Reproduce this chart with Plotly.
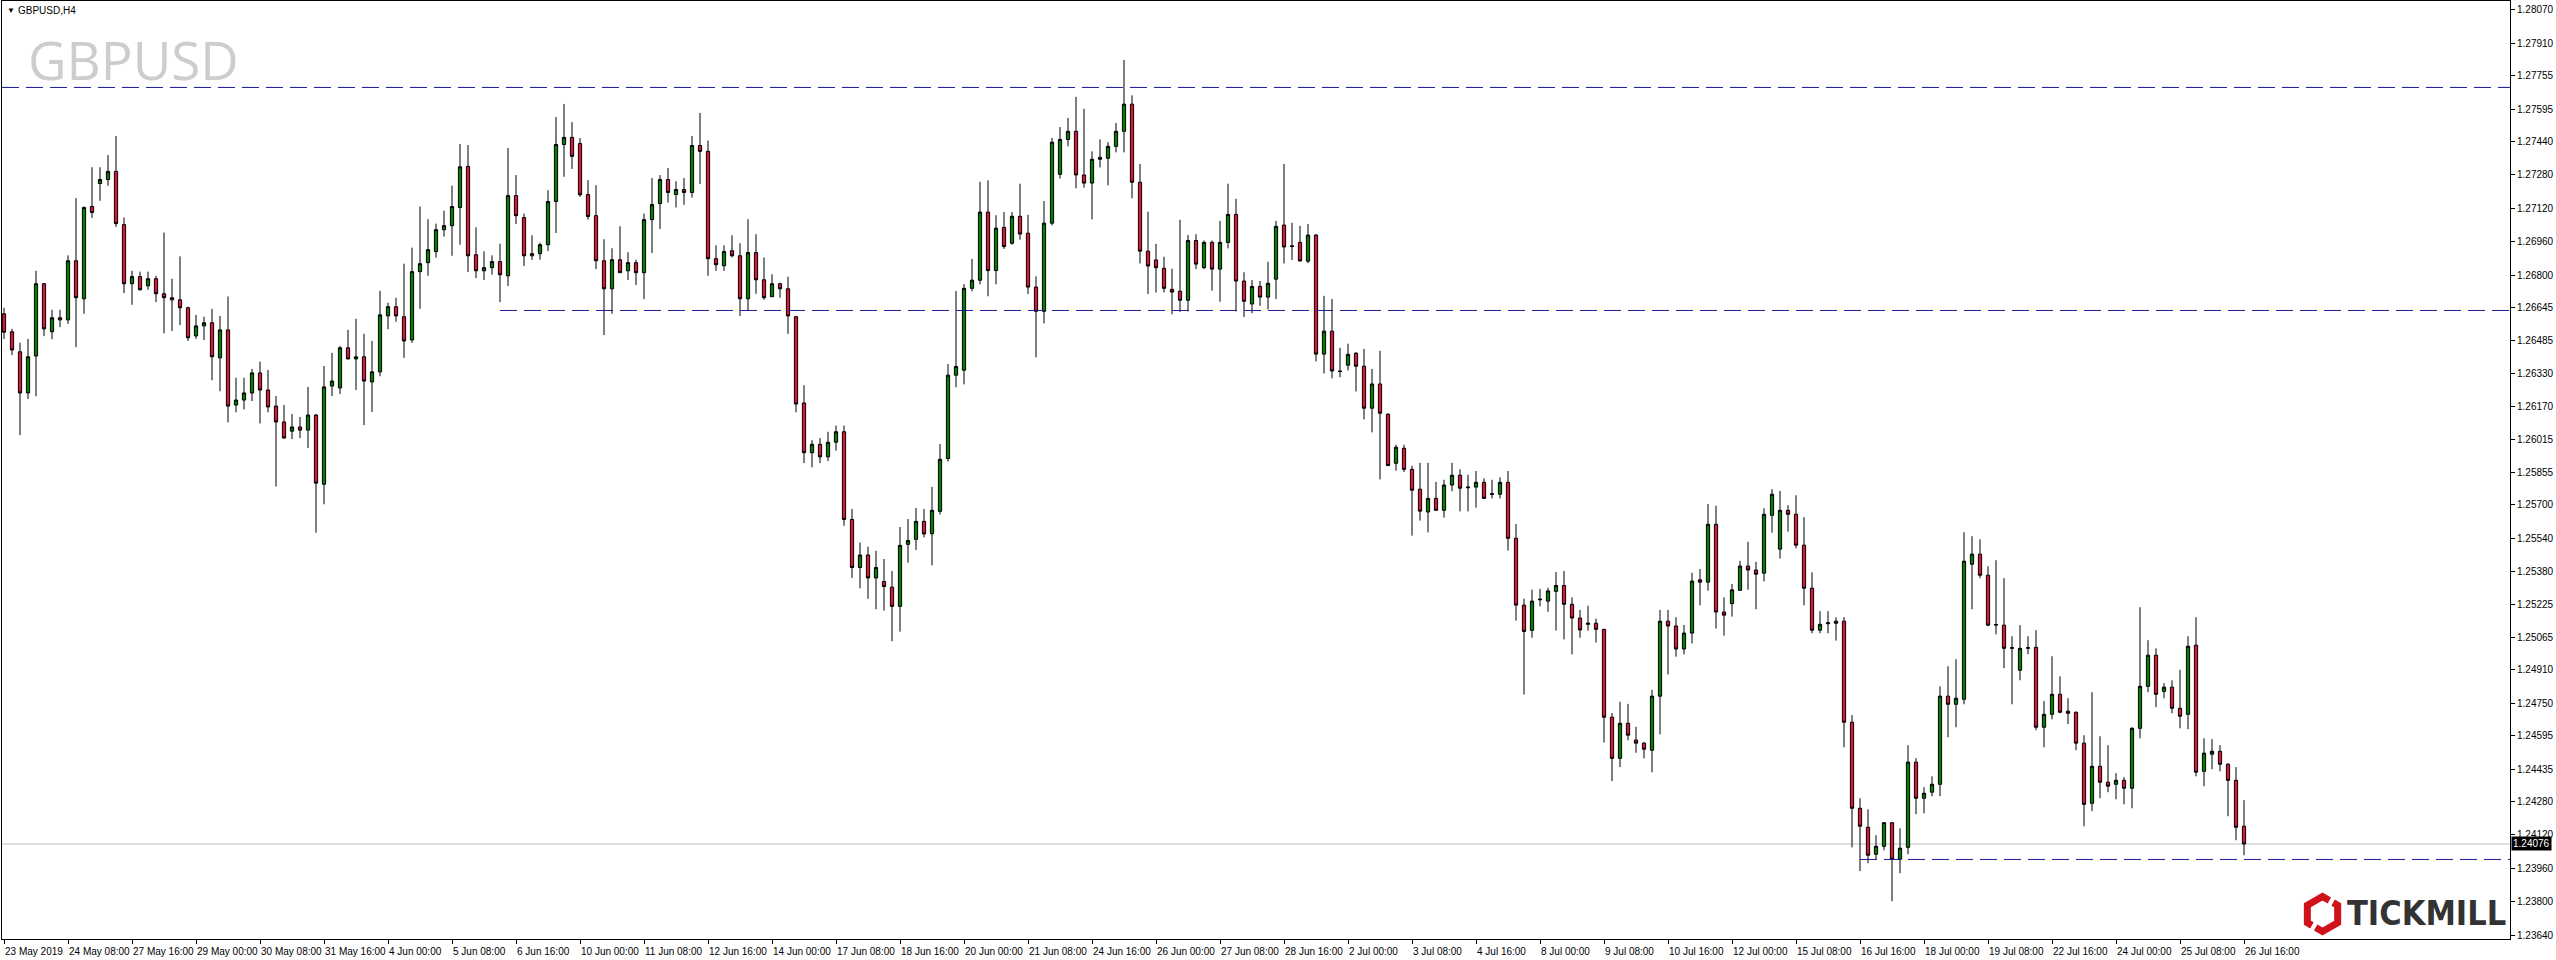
import plotly.graph_objects as go

# ---------------- data (H4 bars, GBPUSD) ----------------
opens = [
1.26615,1.26529,1.26433,1.26236,1.26413,1.26759,1.26529,1.26596,1.26586,1.26869,
1.26687,1.27129,1.27239,1.27258,1.27297,1.27042,1.26759,1.26793,1.26749,1.26783,
1.26711,1.26692,1.26682,1.26644,1.26509,1.26557,1.26572,1.26404,1.26538,1.26178,
1.26202,1.26236,1.26332,1.26250,1.26173,1.26097,1.26053,1.26073,1.26058,1.26130,
1.25799,1.26269,1.26260,1.26452,1.26399,1.26409,1.26289,1.26337,1.26605,1.26649,
1.26601,1.26490,1.26817,1.26860,1.26913,1.27018,1.27037,1.27124,1.27321,1.26898,
1.26821,1.26836,1.26865,1.26797,1.27181,1.27076,1.26893,1.26903,1.26946,1.27153,
1.27426,1.27460,1.27431,1.27186,1.27085,1.26869,1.26735,1.26874,1.26821,1.26860,
1.26812,1.27066,1.27143,1.27258,1.27186,1.27210,1.27196,1.27421,1.27393,1.26879,
1.26845,1.26917,1.26893,1.26687,1.26908,1.26778,1.26697,1.26759,1.26735,1.26601,
1.26188,1.25950,1.25990,1.25930,1.26000,1.26050,1.25630,1.25400,1.25460,1.25350,
1.25333,1.25306,1.25214,1.25511,1.25535,1.25621,1.25562,1.25669,1.25922,1.26321,
1.26345,1.26737,1.26776,1.27102,1.26822,1.27029,1.26953,1.27082,1.27001,1.26743,
1.26627,1.27049,1.27283,1.27450,1.27489,1.27280,1.27241,1.27355,1.27360,1.27417,
1.27489,1.27619,1.27245,1.26915,1.26873,1.26833,1.26732,1.26723,1.26680,1.26966,
1.26836,1.26957,1.26829,1.26957,1.27091,1.26772,1.26662,1.26746,1.26695,1.26781,
1.27040,1.26937,1.26957,1.26867,1.26992,1.26422,1.26532,1.26341,1.26369,1.26426,
1.26364,1.26163,1.26279,1.26134,1.25899,1.25971,1.25870,1.25775,1.25666,1.25731,
1.25674,1.25795,1.25842,1.25782,1.25785,1.25808,1.25750,1.25751,1.25808,1.25540,
1.25220,1.25099,1.25249,1.25239,1.25286,1.25314,1.25224,1.25158,1.25128,1.25133,
1.25104,1.24683,1.24486,1.24654,1.24574,1.24559,1.24525,1.24784,1.25143,1.25120,
1.25010,1.25086,1.25341,1.25330,1.25607,1.25187,1.25227,1.25291,1.25407,1.25388,
1.25373,1.25650,1.25488,1.25674,1.25655,1.25507,1.25301,1.25100,1.25131,1.25133,
1.25143,1.24659,1.24247,1.24156,1.24027,1.24065,1.24178,1.24003,1.24060,1.24468,
1.24295,1.24324,1.24362,1.24784,1.24745,1.24769,1.25416,1.25464,1.25363,1.25124,
1.25124,1.25013,1.24908,1.25013,1.25018,1.24635,1.24697,1.24793,1.24712,1.24707,
1.24559,1.24271,1.24448,1.24372,1.24362,1.24381,1.24343,1.24630,1.24831,1.24980,
1.24807,1.24827,1.24726,1.24697,1.25028,1.24424,1.24506,1.24520,1.24458,1.24381,1.24161]

highs = [
1.26644,1.26543,1.26477,1.26495,1.26821,1.26762,1.26634,1.26634,1.26895,1.27169,
1.27130,1.27317,1.27317,1.27375,1.27466,1.27076,1.26821,1.26817,1.26817,1.26797,
1.27004,1.26783,1.26890,1.26649,1.26610,1.26601,1.26639,1.26605,1.26698,1.26309,
1.26309,1.26351,1.26386,1.26346,1.26221,1.26178,1.26135,1.26121,1.26265,1.26135,
1.26365,1.26428,1.26461,1.26538,1.26591,1.26519,1.26485,1.26725,1.26668,1.26692,
1.26855,1.26932,1.27129,1.27068,1.27047,1.27109,1.27229,1.27428,1.27423,1.27029,
1.26914,1.26895,1.26951,1.27409,1.27279,1.27095,1.26991,1.26956,1.27207,1.27557,
1.27620,1.27533,1.27457,1.27255,1.27231,1.26972,1.26929,1.27034,1.26910,1.26874,
1.27095,1.27265,1.27279,1.27313,1.27250,1.27265,1.27466,1.27577,1.27445,1.26943,
1.26943,1.26991,1.26953,1.27068,1.26996,1.26885,1.26804,1.26764,1.26793,1.26605,
1.26273,1.26010,1.26020,1.26050,1.26080,1.26080,1.25680,1.25520,1.25500,1.25480,
1.25441,1.25383,1.25594,1.25632,1.25685,1.25680,1.25786,1.25991,1.26374,1.26724,
1.26757,1.26878,1.27247,1.27254,1.27087,1.27102,1.27102,1.27238,1.27089,1.26794,
1.27155,1.27457,1.27509,1.27553,1.27654,1.27597,1.27393,1.27450,1.27437,1.27529,
1.27831,1.27661,1.27333,1.27104,1.26950,1.26888,1.26831,1.27065,1.26992,1.26996,
1.26966,1.26966,1.27060,1.27238,1.27166,1.26814,1.26776,1.26772,1.26864,1.27060,
1.27333,1.27051,1.27036,1.27045,1.26997,1.26701,1.26686,1.26452,1.26472,1.26432,
1.26447,1.26351,1.26438,1.26139,1.25988,1.25988,1.25887,1.25901,1.25901,1.25810,
1.25820,1.25901,1.25870,1.25844,1.25862,1.25827,1.25820,1.25832,1.25862,1.25608,
1.25251,1.25294,1.25298,1.25303,1.25378,1.25383,1.25257,1.25197,1.25217,1.25155,
1.25106,1.24703,1.24757,1.24747,1.24637,1.24564,1.24814,1.25197,1.25197,1.25162,
1.25125,1.25375,1.25393,1.25704,1.25696,1.25257,1.25321,1.25432,1.25523,1.25427,
1.25684,1.25775,1.25767,1.25698,1.25746,1.25641,1.25377,1.25191,1.25191,1.25162,
1.25162,1.24693,1.24295,1.24242,1.24118,1.24180,1.24180,1.24151,1.24549,1.24487,
1.24348,1.24400,1.24831,1.24927,1.24961,1.25569,1.25550,1.25535,1.25406,1.25435,
1.25349,1.25071,1.25124,1.25071,1.25100,1.24760,1.24975,1.24879,1.24774,1.24710,
1.24597,1.24803,1.24592,1.24549,1.24415,1.24396,1.24635,1.25210,1.25052,1.25013,
1.24846,1.24860,1.24910,1.25071,1.25162,1.24582,1.24578,1.24549,1.24463,1.24444,1.24286]

lows = [
1.26495,1.26418,1.26034,1.26207,1.26220,1.26508,1.26493,1.26551,1.26567,1.26455,
1.26615,1.27074,1.27156,1.27228,1.27031,1.26714,1.26658,1.26727,1.26730,1.26671,
1.26522,1.26533,1.26561,1.26485,1.26495,1.26489,1.26297,1.26244,1.26095,1.26143,
1.26157,1.26197,1.26090,1.26143,1.25788,1.26018,1.26015,1.26020,1.25972,1.25567,
1.25703,1.26221,1.26231,1.26397,1.26250,1.26082,1.26145,1.26316,1.26541,1.26577,
1.26404,1.26476,1.26639,1.26797,1.26884,1.26985,1.26893,1.26946,1.26815,1.26786,
1.26777,1.26802,1.26671,1.26748,1.27045,1.26844,1.26873,1.26874,1.26916,1.27002,
1.27271,1.27309,1.27175,1.27066,1.26829,1.26513,1.26615,1.26812,1.26777,1.26753,
1.26685,1.26906,1.27021,1.27148,1.27124,1.27137,1.27172,1.27237,1.26797,1.26821,
1.26821,1.26885,1.26605,1.26633,1.26711,1.26682,1.26695,1.26692,1.26519,1.26143,
1.25900,1.25880,1.25900,1.25910,1.25960,1.25600,1.25350,1.25300,1.25250,1.25200,
1.25194,1.25047,1.25093,1.25423,1.25484,1.25544,1.25410,1.25654,1.25907,1.26263,
1.26277,1.26723,1.26756,1.26699,1.26756,1.26926,1.26946,1.26970,1.26710,1.26407,
1.26569,1.27038,1.27263,1.27417,1.27216,1.27219,1.27067,1.27316,1.27230,1.27388,
1.27388,1.27168,1.26856,1.26710,1.26717,1.26717,1.26613,1.26624,1.26627,1.26829,
1.26829,1.26726,1.26673,1.26928,1.26627,1.26600,1.26618,1.26653,1.26636,1.26686,
1.26856,1.26873,1.26867,1.26858,1.26387,1.26329,1.26306,1.26311,1.26344,1.26243,
1.26109,1.26047,1.25822,1.25886,1.25864,1.25857,1.25553,1.25625,1.25568,1.25672,
1.25639,1.25765,1.25669,1.25669,1.25687,1.25729,1.25731,1.25731,1.25481,1.25146,
1.24792,1.25064,1.25214,1.25188,1.25098,1.25056,1.24984,1.25064,1.25098,1.25041,
1.24562,1.24377,1.24444,1.24572,1.24513,1.24486,1.24419,1.24601,1.24888,1.24973,
1.24984,1.25036,1.25219,1.25289,1.25108,1.25074,1.25165,1.25289,1.25294,1.25200,
1.25333,1.25567,1.25443,1.25572,1.25492,1.25219,1.25085,1.25085,1.25085,1.25050,
1.24539,1.24060,1.23946,1.23984,1.24003,1.24046,1.23802,1.23936,1.24027,1.24219,
1.24223,1.24305,1.24305,1.24587,1.24635,1.24745,1.25200,1.25349,1.25119,1.25080,
1.24918,1.24745,1.24860,1.24985,1.24621,1.24539,1.24673,1.24702,1.24650,1.24525,
1.24161,1.24233,1.24295,1.24324,1.24290,1.24266,1.24247,1.24582,1.24803,1.24731,
1.24774,1.24702,1.24630,1.24626,1.24400,1.24353,1.24434,1.24424,1.24209,1.24094,1.24022]

closes = [
1.26527,1.26442,1.26236,1.26409,1.26759,1.26543,1.26596,1.26586,1.26869,1.26692,
1.27124,1.27100,1.27258,1.27297,1.27047,1.26759,1.26793,1.26730,1.26783,1.26711,
1.26692,1.26682,1.26644,1.26500,1.26557,1.26572,1.26409,1.26538,1.26173,1.26202,
1.26236,1.26332,1.26250,1.26169,1.26097,1.26020,1.26073,1.26058,1.26130,1.25804,
1.26265,1.26293,1.26452,1.26399,1.26409,1.26293,1.26337,1.26610,1.26649,1.26605,
1.26485,1.26817,1.26855,1.26922,1.27018,1.27037,1.27129,1.27319,1.26893,1.26821,
1.26836,1.26865,1.26802,1.27181,1.27085,1.26893,1.26903,1.26946,1.27153,1.27426,
1.27460,1.27369,1.27185,1.27081,1.26869,1.26735,1.26874,1.26812,1.26860,1.26812,
1.27066,1.27138,1.27258,1.27196,1.27210,1.27196,1.27421,1.27393,1.26879,1.26850,
1.26913,1.26893,1.26687,1.26908,1.26778,1.26692,1.26759,1.26735,1.26605,1.26183,
1.25950,1.25990,1.25930,1.26000,1.26050,1.25630,1.25400,1.25460,1.25350,1.25400,
1.25309,1.25214,1.25506,1.25529,1.25621,1.25561,1.25674,1.25918,1.26321,1.26363,
1.26737,1.26776,1.27102,1.26822,1.27025,1.26937,1.27082,1.26997,1.26743,1.26627,
1.27049,1.27437,1.27450,1.27489,1.27280,1.27241,1.27355,1.27364,1.27417,1.27489,
1.27619,1.27245,1.26915,1.26844,1.26836,1.26737,1.26719,1.26680,1.26966,1.26853,
1.26957,1.26829,1.26957,1.27091,1.26772,1.26675,1.26746,1.26695,1.26761,1.27034,
1.26935,1.26940,1.26868,1.26992,1.26422,1.26532,1.26341,1.26339,1.26421,1.26364,
1.26163,1.26279,1.26139,1.25888,1.25976,1.25870,1.25770,1.25670,1.25731,1.25674,
1.25795,1.25842,1.25780,1.25785,1.25808,1.25731,1.25753,1.25808,1.25540,1.25220,
1.25094,1.25239,1.25246,1.25288,1.25314,1.25224,1.25158,1.25101,1.25133,1.25104,
1.24683,1.24486,1.24654,1.24597,1.24559,1.24530,1.24784,1.25143,1.25120,1.25010,
1.25086,1.25335,1.25330,1.25607,1.25187,1.25172,1.25293,1.25407,1.25388,1.25368,
1.25655,1.25751,1.25674,1.25655,1.25507,1.25301,1.25100,1.25128,1.25135,1.25143,
1.24659,1.24247,1.24161,1.24022,1.24065,1.24178,1.24003,1.24056,1.24468,1.24295,
1.24319,1.24362,1.24784,1.24745,1.24774,1.25430,1.25464,1.25363,1.25124,1.25127,
1.25013,1.25016,1.25013,1.25016,1.24635,1.24697,1.24793,1.24707,1.24702,1.24559,
1.24266,1.24448,1.24372,1.24353,1.24381,1.24343,1.24630,1.24831,1.24980,1.24793,
1.24827,1.24726,1.24688,1.25023,1.24420,1.24511,1.24520,1.24458,1.24381,1.24156,1.24076]

time_labels = ["23 May 2019","24 May 08:00","27 May 16:00","29 May 00:00","30 May 08:00",
"31 May 16:00","4 Jun 00:00","5 Jun 08:00","6 Jun 16:00","10 Jun 00:00","11 Jun 08:00",
"12 Jun 16:00","14 Jun 00:00","17 Jun 08:00","18 Jun 16:00","20 Jun 00:00","21 Jun 08:00",
"24 Jun 16:00","26 Jun 00:00","27 Jun 08:00","28 Jun 16:00","2 Jul 00:00","3 Jul 08:00",
"4 Jul 16:00","8 Jul 00:00","9 Jul 08:00","10 Jul 16:00","12 Jul 00:00","15 Jul 08:00",
"16 Jul 16:00","18 Jul 00:00","19 Jul 08:00","22 Jul 16:00","24 Jul 00:00","25 Jul 08:00",
"26 Jul 16:00"]
label_step = 8  # one time label every 8 bars

price_ticks = [1.28070,1.27910,1.27755,1.27595,1.27440,1.27280,1.27120,1.26960,1.26800,
1.26645,1.26485,1.26330,1.26170,1.26015,1.25855,1.25700,1.25540,1.25380,1.25225,1.25065,
1.24910,1.24750,1.24595,1.24435,1.24280,1.24120,1.23960,1.23800,1.23640]

resistance_top = 1.27699
support_mid = 1.26631
support_mid_start = 62
support_low = 1.24002
support_low_start = 232
last_price = 1.24076

# ---------------- layout geometry ----------------
W, H = 2556, 960
ML, MR, MT, MB = 2, 46, 1, 21
PW, PH = W - ML - MR, H - MT - MB
X_RANGE = [-0.25, 313.25]
Y_RANGE = [1.23621, 1.28113]

def px(X):
    return (X - ML) / PW

def py(Y):
    return (H - MB - Y) / PH

FONT = "Liberation Sans, Arial, sans-serif"
DASH = "17px,7px"
LEVEL_COLOR = "#1a1a96"

x = list(range(len(opens)))

fig = go.Figure()
fig.add_trace(go.Candlestick(
    x=x, open=opens, high=highs, low=lows, close=closes,
    increasing=dict(fillcolor="#008000", line=dict(color="black", width=1)),
    decreasing=dict(fillcolor="#DC143C", line=dict(color="black", width=1)),
    whiskerwidth=0, showlegend=False, hoverinfo="skip"))

shapes = [
    dict(type="line", xref="paper", yref="y", x0=0, x1=1, y0=last_price, y1=last_price,
         line=dict(color="#c0c0c0", width=1), layer="below"),
    dict(type="line", xref="paper", yref="y", x0=0, x1=1, y0=resistance_top, y1=resistance_top,
         line=dict(color=LEVEL_COLOR, width=1, dash=DASH), layer="above"),
    dict(type="line", xref="x", yref="y", x0=support_mid_start, x1=X_RANGE[1],
         y0=support_mid, y1=support_mid,
         line=dict(color=LEVEL_COLOR, width=1, dash=DASH), layer="above"),
    dict(type="line", xref="x", yref="y", x0=support_low_start, x1=X_RANGE[1],
         y0=support_low, y1=support_low,
         line=dict(color=LEVEL_COLOR, width=1, dash=DASH), layer="above"),
]

# Tickmill hexagon logo (two open halves)
cx, cy, r = 2322.5, 914.0, 17.5
s3 = 0.8660254
V = {
    "T": (cx, cy - r), "UR": (cx + r * s3, cy - r / 2), "LR": (cx + r * s3, cy + r / 2),
    "B": (cx, cy + r), "LL": (cx - r * s3, cy + r / 2), "UL": (cx - r * s3, cy - r / 2),
}
def lerp(p, q, t):
    return (p[0] + (q[0] - p[0]) * t, p[1] + (q[1] - p[1]) * t)
a, b = 0.45, 0.30
half_a = [lerp(V["T"], V["UR"], a), V["T"], V["UL"], V["LL"], lerp(V["LL"], V["B"], b)]
half_b = [lerp(V["B"], V["LL"], a), V["B"], V["LR"], V["UR"], lerp(V["UR"], V["T"], b)]
for pts in (half_a, half_b):
    path = "M " + " L ".join(f"{px(p[0]):.5f},{py(p[1]):.5f}" for p in pts)
    shapes.append(dict(type="path", xref="paper", yref="paper", path=path,
                       line=dict(color="#d0121b", width=7), layer="above"))

annotations = [
    dict(xref="paper", yref="paper", x=px(5), y=py(10.5), text="▼", showarrow=False,
         xanchor="left", yanchor="middle", font=dict(family=FONT, size=8, color="black")),
    dict(xref="paper", yref="paper", x=px(16), y=py(10.5), text="GBPUSD,H4", showarrow=False,
         xanchor="left", yanchor="middle", font=dict(family=FONT, size=10, color="black")),
    dict(xref="paper", yref="paper", x=px(26), y=py(60), text="GBPUSD", showarrow=False,
         xanchor="left", yanchor="middle",
         font=dict(family="Open Sans, Liberation Sans", size=53, color="#cdcdcd")),
    dict(xref="paper", yref="paper", x=px(2345), y=py(913), text="<b>TICKMILL</b>", showarrow=False,
         xanchor="left", yanchor="middle",
         font=dict(family="Liberation Sans Narrow, DejaVu Sans Condensed, Arial Narrow, sans-serif",
                   size=34, color="#333333")),
    dict(xref="paper", yref="y", x=1, y=last_price, text=f"{last_price:.5f}", showarrow=False,
         xanchor="left", yanchor="middle", xshift=1, bgcolor="black", borderpad=1,
         font=dict(family=FONT, size=10, color="white")),
]

fig.update_layout(
    width=W, height=H, margin=dict(l=ML, r=MR, t=MT, b=MB, pad=0),
    paper_bgcolor="white", plot_bgcolor="white", showlegend=False,
    shapes=shapes, annotations=annotations,
    xaxis=dict(range=X_RANGE, tickmode="array",
               tickvals=[i * label_step for i in range(len(time_labels))],
               ticktext=time_labels, ticks="outside", ticklen=4, tickcolor="black",
               tickangle=0, ticklabelposition="outside right", ticklabelstandoff=3,
               showgrid=False, zeroline=False, showline=True, linecolor="black",
               linewidth=1, mirror=True, rangeslider=dict(visible=False),
               tickfont=dict(family=FONT, size=10, color="black")),
    yaxis=dict(side="right", range=Y_RANGE, tickmode="array", tickvals=price_ticks,
               ticktext=[f"{v:.5f}" for v in price_ticks], ticks="outside", ticklen=4,
               tickcolor="black", showgrid=False, zeroline=False, showline=True,
               linecolor="black", linewidth=1, mirror=True,
               tickfont=dict(family=FONT, size=10, color="black")),
    boxgap=0.42,
)

fig.write_html(
    "out.html",
    config={"displayModeBar": False, "staticPlot": True},
    post_script="document.body.style.margin='0';document.body.style.padding='0';"
                "document.body.style.overflow='hidden';",
)
